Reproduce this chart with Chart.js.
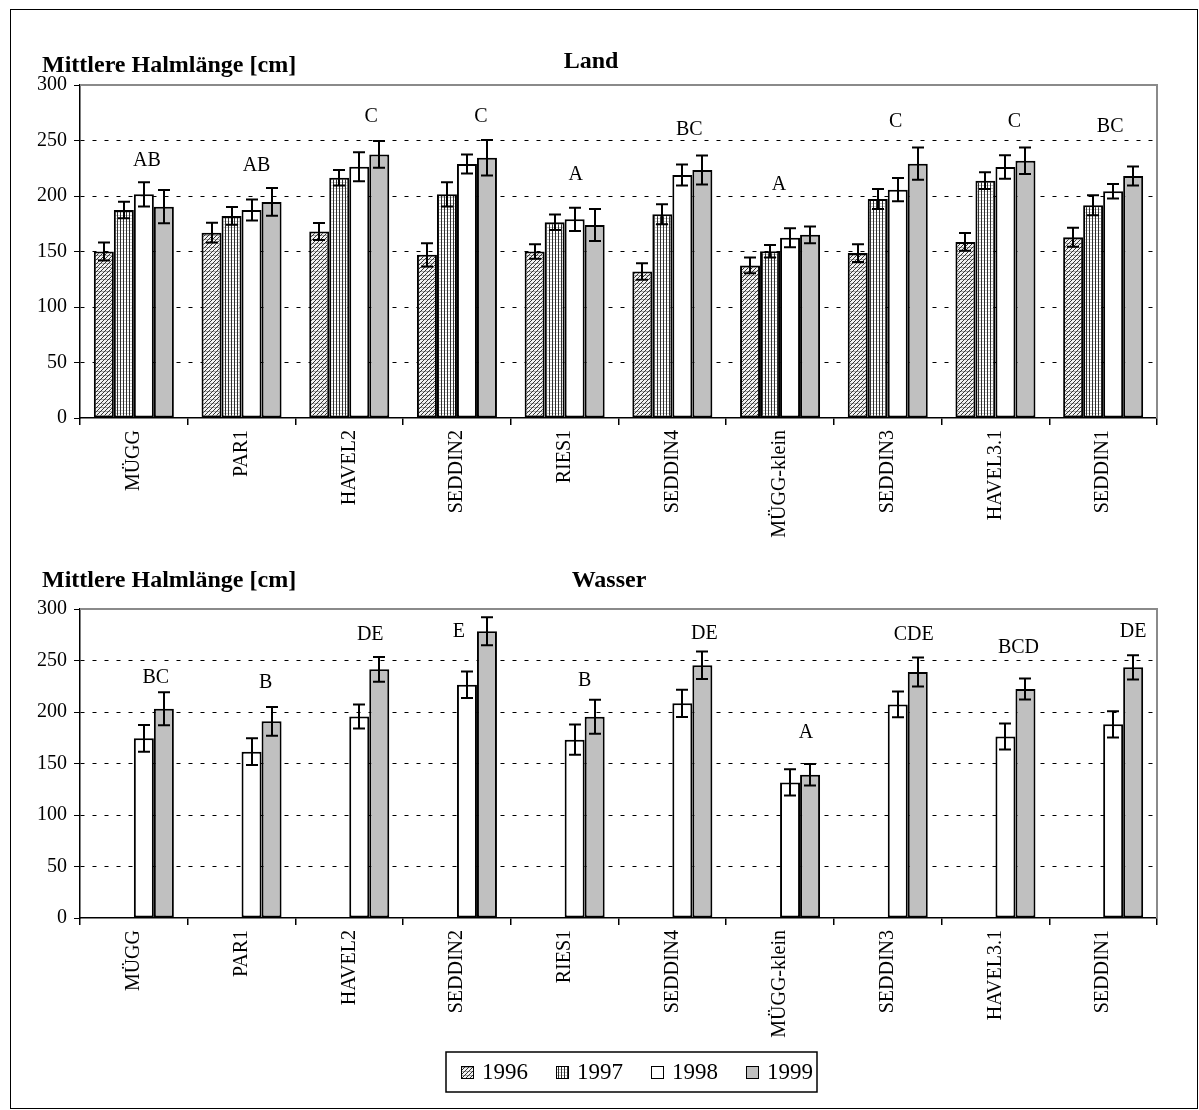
<!DOCTYPE html>
<html>
<head>
<meta charset="utf-8">
<script src="https://cdn.jsdelivr.net/npm/chart.js@4.4.1/dist/chart.umd.min.js"></script>
<style>
  html, body { margin: 0; padding: 0; background: #fff; }
  #page { position: relative; width: 1199px; height: 1110px; overflow: hidden; background: #fff; }
  #frame { position: absolute; left: 10px; top: 9px; width: 1188px; height: 1100px;
           border: 1.5px solid #000; box-sizing: border-box; }
  canvas { position: absolute; left: 0; }
  #land { top: 0; }
  #wasser { top: 560px; }
</style>
</head>
<body>
<div id="page">
  <div id="frame"></div>
  <canvas id="land" width="1199" height="560"></canvas>
  <canvas id="wasser" width="1199" height="550"></canvas>
</div>
<script>
// Sampling sites and years
const sites = ['MÜGG', 'PAR1', 'HAVEL2', 'SEDDIN2', 'RIES1', 'SEDDIN4', 'MÜGG-klein', 'SEDDIN3', 'HAVEL3.1', 'SEDDIN1'];
const years = ['1996', '1997', '1998', '1999'];
const yTicks = [0, 50, 100, 150, 200, 250, 300];

// Land: mean culm length [cm] and error
const land1996 = [150, 167, 168, 147, 150, 132, 137.5, 148.6, 158.6, 162.8];
const land1996Err = [8, 9, 7.6, 10.5, 6.5, 7.5, 7, 8, 8, 8.5];
const land1997 = [187.4, 182, 216.5, 201.5, 176.3, 183.5, 150.2, 197.3, 213.8, 191.6];
const land1997Err = [7.5, 8, 7, 11, 7, 9, 5.6, 9, 7.5, 9];
const land1998 = [201.5, 187.4, 226.4, 228.8, 179, 218.9, 162.4, 205.7, 226.1, 204.2];
const land1998Err = [11, 9.5, 13, 8.5, 10.5, 9.5, 8.5, 10.5, 10.5, 6.5];
const land1999 = [190.4, 194.6, 237.5, 234.5, 173.9, 223.4, 165, 229.1, 231.8, 218];
const land1999Err = [15, 12.5, 12, 16, 14.5, 13, 7.5, 14.5, 12, 8.5];
const landLetters = ['AB', 'AB', 'C', 'C', 'A', 'BC', 'A', 'C', 'C', 'BC'];
const landLetterLevel = [232, 227, 271, 271, 219.5, 259.5, 210, 267, 267, 262.5];

// Wasser: no samples in 1996 and 1997
const wasser1996 = [null, null, null, null, null, null, null, null, null, null];
const wasser1997 = [null, null, null, null, null, null, null, null, null, null];
const wasser1998 = [174.4, 161.5, 195.7, 226.5, 173.1, 208.4, 131.6, 207.4, 176.3, 188];
const wasser1998Err = [13, 13, 11.7, 12.8, 14.7, 13.3, 12.7, 12.6, 12.6, 12.8];
const wasser1999 = [203.2, 190.9, 241.4, 278.4, 195.4, 245.4, 139.1, 238.8, 222.4, 243.4];
const wasser1999Err = [16, 14, 12, 13.5, 16.5, 13.3, 10.4, 14, 10.2, 11.8];
const wasserLetters = ['BC', 'B', 'DE', 'E', 'B', 'DE', 'A', 'CDE', 'BCD', 'DE'];
const wasserLetterLevel = [233, 228.7, 275, 277.7, 230.7, 275.7, 180.2, 275.3, 262.7, 277.7];

// Horizontal placement of the letter groups (pixels from category centre)
const landLetterShift = [13, 15, 22, 24, 11, 17, -1, 8, 19, 7];
const wasserLetterShift = [22, 24, 21, 2, 20, 32, 26, 26, 23, 30];

const SERIF = "'Liberation Serif', 'Times New Roman', serif";
Chart.defaults.font.family = SERIF;
Chart.defaults.color = '#000';

// Fill patterns for the bars
function makePattern(kind) {
  const c = document.createElement('canvas');
  const g = c.getContext('2d');
  if (kind === 'diag') {
    c.width = 4; c.height = 4;
    g.fillStyle = '#f2f2f2'; g.fillRect(0, 0, 4, 4);
    g.fillStyle = '#a8a8a8'; g.fillRect(0, 3, 4, 1);
    g.fillStyle = '#333';
    g.fillRect(0, 3, 1, 1); g.fillRect(1, 2, 1, 1); g.fillRect(2, 1, 1, 1); g.fillRect(3, 0, 1, 1);
  } else if (kind === 'vert') {
    c.width = 3; c.height = 3;
    g.fillStyle = '#fff'; g.fillRect(0, 0, 3, 3);
    g.fillStyle = '#c8c8c8'; g.fillRect(0, 2, 3, 1);
    g.fillStyle = '#2e2e2e'; g.fillRect(0, 0, 1, 3);
  }
  return g.createPattern(c, 'repeat');
}
const fills = [makePattern('diag'), makePattern('vert'), '#ffffff', '#c0c0c0'];

const errorBars = {
  id: 'errorBars',
  afterDatasetsDraw(chart) {
    const ctx = chart.ctx, ys = chart.scales.y;
    ctx.save();
    ctx.strokeStyle = '#000';
    ctx.lineWidth = 2;
    chart.data.datasets.forEach((ds, i) => {
      const meta = chart.getDatasetMeta(i);
      meta.data.forEach((bar, j) => {
        const v = ds.data[j], e = ds.errors ? ds.errors[j] : null;
        if (v == null || e == null) return;
        const x = Math.round(bar.x);
        const top = ys.getPixelForValue(v + e), bot = ys.getPixelForValue(v - e);
        ctx.beginPath();
        ctx.moveTo(x, top); ctx.lineTo(x, bot);
        ctx.moveTo(x - 6, top); ctx.lineTo(x + 6, top);
        ctx.moveTo(x - 6, bot); ctx.lineTo(x + 6, bot);
        ctx.stroke();
      });
    });
    ctx.restore();
  }
};

const plotFrame = {
  id: 'plotFrame',
  beforeDatasetsDraw(chart) {
    const { ctx, chartArea: a } = chart;
    ctx.save();
    ctx.strokeStyle = '#8a8a8a';
    ctx.lineWidth = 2;
    ctx.beginPath();
    ctx.moveTo(a.left, a.top); ctx.lineTo(a.right, a.top); ctx.lineTo(a.right, a.bottom);
    ctx.stroke();
    ctx.restore();
  }
};

const groupLetters = {
  id: 'groupLetters',
  afterDatasetsDraw(chart, args, opts) {
    const ctx = chart.ctx, xs = chart.scales.x, ys = chart.scales.y;
    ctx.save();
    ctx.fillStyle = '#000';
    ctx.font = '20px ' + SERIF;
    ctx.textAlign = 'center';
    ctx.textBaseline = 'middle';
    opts.letters.forEach((t, j) => {
      ctx.fillText(t, xs.getPixelForValue(j) + opts.shift[j], ys.getPixelForValue(opts.level[j]));
    });
    ctx.restore();
  }
};

const headings = {
  id: 'headings',
  afterDraw(chart, args, opts) {
    const ctx = chart.ctx;
    ctx.save();
    ctx.fillStyle = '#000';
    ctx.font = 'bold 24px ' + SERIF;
    ctx.textBaseline = 'alphabetic';
    ctx.textAlign = 'left';
    ctx.fillText(opts.axisTitle, opts.axisX, opts.axisY);
    ctx.textAlign = 'center';
    ctx.fillText(opts.title, opts.titleX, opts.titleY);
    ctx.restore();
  }
};

const boxedLegend = {
  id: 'boxedLegend',
  afterDraw(chart, args, opts) {
    if (!opts.show) return;
    const ctx = chart.ctx;
    ctx.save();
    ctx.strokeStyle = '#000';
    ctx.lineWidth = 1.5;
    ctx.strokeRect(opts.x, opts.y, opts.w, opts.h);
    ctx.font = '23px ' + SERIF;
    ctx.textBaseline = 'middle';
    ctx.textAlign = 'left';
    const cy = opts.y + opts.h / 2;
    chart.data.datasets.forEach((ds, i) => {
      const sx = opts.x + 15 + i * opts.step;
      ctx.fillStyle = ds.backgroundColor;
      ctx.fillRect(sx, cy - 6, 13, 13);
      ctx.lineWidth = 1;
      ctx.strokeRect(sx + 0.5, cy - 5.5, 12, 12);
      ctx.fillStyle = '#000';
      ctx.fillText(ds.label, sx + 21, cy + 1);
    });
    ctx.restore();
  }
};

function buildDatasets(values, errors) {
  return years.map((y, i) => ({
    label: y,
    data: values[i],
    errors: errors[i],
    backgroundColor: fills[i],
    borderColor: '#000',
    borderWidth: 2,
    borderSkipped: false,
    categoryPercentage: 0.743,
    barPercentage: 1.0
  }));
}

function makeChart(id, datasets, padTop, xHeight, extra) {
  return new Chart(document.getElementById(id), {
    type: 'bar',
    data: { labels: sites, datasets },
    plugins: [plotFrame, errorBars, groupLetters, headings, boxedLegend],
    options: {
      responsive: false,
      animation: false,
      devicePixelRatio: 1,
      layout: { padding: { left: 10, right: 42, top: padTop, bottom: 0 } },
      plugins: {
        legend: { display: false },
        tooltip: { enabled: false },
        groupLetters: extra.letters,
        headings: extra.headings,
        boxedLegend: extra.legend
      },
      scales: {
        x: {
          type: 'category',
          offset: true,
          afterFit: s => { s.height = xHeight; },
          grid: { display: true, drawOnChartArea: false, drawTicks: true, offset: true,
                  color: '#000', lineWidth: 1.5, tickLength: 7 },
          border: { display: true, color: '#000', width: 1.5 },
          ticks: { autoSkip: false, maxRotation: 90, minRotation: 90, padding: 5,
                   font: { size: 20, family: SERIF }, color: '#000' }
        },
        y: {
          min: 0, max: 300,
          afterFit: s => { s.width = 70; },
          afterBuildTicks: s => { s.ticks = yTicks.map(v => ({ value: v })); },
          grid: {
            color: c => (c.tick && (c.tick.value === 0 || c.tick.value === 300)) ? 'rgba(0,0,0,0)' : '#000',
            lineWidth: 1, tickColor: '#000', tickLength: 6, drawTicks: true
          },
          border: { display: true, color: '#000', width: 1.5, dash: [4, 8] },
          ticks: { padding: 7, font: { size: 20, family: SERIF }, color: '#000' }
        }
      }
    }
  });
}

makeChart('land',
  buildDatasets([land1996, land1997, land1998, land1999],
                [land1996Err, land1997Err, land1998Err, land1999Err]),
  85, 142,
  {
    letters: { letters: landLetters, level: landLetterLevel, shift: landLetterShift },
    headings: { axisTitle: 'Mittlere Halmlänge [cm]', axisX: 42, axisY: 72,
                title: 'Land', titleX: 591, titleY: 68 },
    legend: { show: false }
  });

makeChart('wasser',
  buildDatasets([wasser1996, wasser1997, wasser1998, wasser1999],
                [null, null, wasser1998Err, wasser1999Err]),
  49, 192,
  {
    letters: { letters: wasserLetters, level: wasserLetterLevel, shift: wasserLetterShift },
    headings: { axisTitle: 'Mittlere Halmlänge [cm]', axisX: 42, axisY: 27,
                title: 'Wasser', titleX: 609, titleY: 27 },
    legend: { show: true, x: 446, y: 492, w: 371, h: 40, step: 95 }
  });
</script>
</body>
</html>
